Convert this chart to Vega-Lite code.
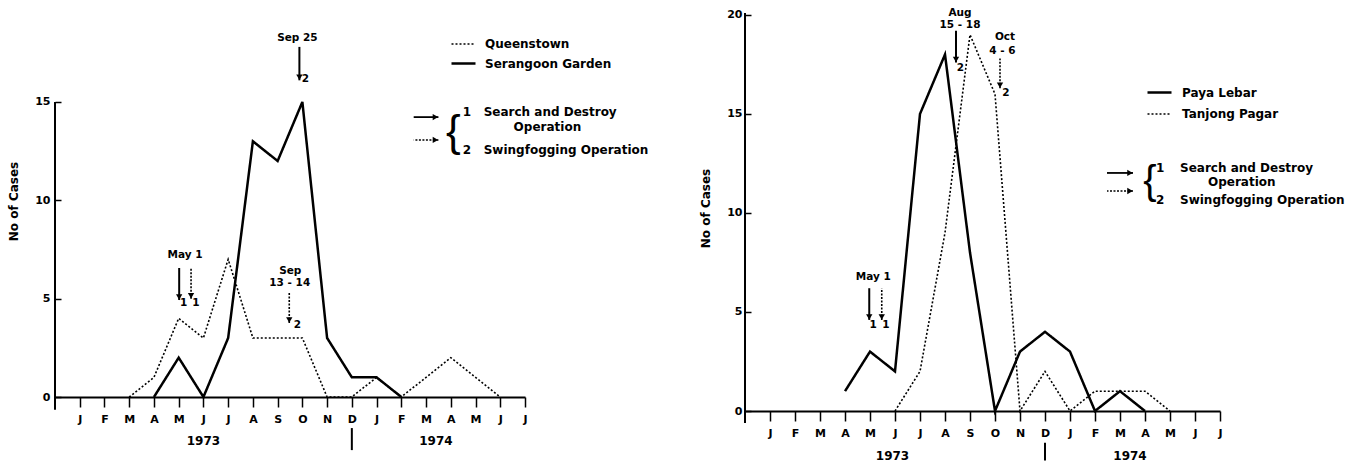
{
  "$schema": "https://vega.github.io/schema/vega-lite/v6.json",
  "padding": {"left": 7, "top": 5, "right": 5, "bottom": 0},
  "background": "white",
  "bounds": "flush",
  "spacing": 220,
  "config": {
    "font": "DejaVu Sans",
    "view": {"stroke": null},
    "axis": {"grid": false, "domainColor": "black", "tickColor": "black", "labelColor": "black", "titleColor": "black", "labelFont": "DejaVu Sans", "labelFontWeight": "bold", "labelFontSize": 11, "titleFont": "DejaVu Sans", "titleFontWeight": "bold", "titleFontSize": 12},
    "legend": {"labelFont": "DejaVu Sans", "labelFontWeight": "bold", "labelFontSize": 12, "labelColor": "black", "padding": 0}
  },
  "resolve": {"scale": {"strokeDash": "independent", "strokeWidth": "independent"}, "legend": {"strokeDash": "independent", "strokeWidth": "independent"}},
  "datasets": {
    "seriesLeft": [
      {"site": "Queenstown", "month": 3, "cases": 0},
      {"site": "Queenstown", "month": 4, "cases": 1},
      {"site": "Queenstown", "month": 5, "cases": 4},
      {"site": "Queenstown", "month": 6, "cases": 3},
      {"site": "Queenstown", "month": 7, "cases": 7},
      {"site": "Queenstown", "month": 8, "cases": 3},
      {"site": "Queenstown", "month": 9, "cases": 3},
      {"site": "Queenstown", "month": 10, "cases": 3},
      {"site": "Queenstown", "month": 11, "cases": 0},
      {"site": "Queenstown", "month": 12, "cases": 0},
      {"site": "Queenstown", "month": 13, "cases": 1},
      {"site": "Queenstown", "month": 14, "cases": 0},
      {"site": "Queenstown", "month": 15, "cases": 1},
      {"site": "Queenstown", "month": 16, "cases": 2},
      {"site": "Queenstown", "month": 17, "cases": 1},
      {"site": "Queenstown", "month": 18, "cases": 0},
      {"site": "Serangoon Garden", "month": 4, "cases": 0},
      {"site": "Serangoon Garden", "month": 5, "cases": 2},
      {"site": "Serangoon Garden", "month": 6, "cases": 0},
      {"site": "Serangoon Garden", "month": 7, "cases": 3},
      {"site": "Serangoon Garden", "month": 8, "cases": 13},
      {"site": "Serangoon Garden", "month": 9, "cases": 12},
      {"site": "Serangoon Garden", "month": 10, "cases": 15},
      {"site": "Serangoon Garden", "month": 11, "cases": 3},
      {"site": "Serangoon Garden", "month": 12, "cases": 1},
      {"site": "Serangoon Garden", "month": 13, "cases": 1},
      {"site": "Serangoon Garden", "month": 14, "cases": 0}
    ],
    "seriesRight": [
      {"site": "Paya Lebar", "month": 4, "cases": 1},
      {"site": "Paya Lebar", "month": 5, "cases": 3},
      {"site": "Paya Lebar", "month": 6, "cases": 2},
      {"site": "Paya Lebar", "month": 7, "cases": 15},
      {"site": "Paya Lebar", "month": 8, "cases": 18},
      {"site": "Paya Lebar", "month": 9, "cases": 8},
      {"site": "Paya Lebar", "month": 10, "cases": 0},
      {"site": "Paya Lebar", "month": 11, "cases": 3},
      {"site": "Paya Lebar", "month": 12, "cases": 4},
      {"site": "Paya Lebar", "month": 13, "cases": 3},
      {"site": "Paya Lebar", "month": 14, "cases": 0},
      {"site": "Paya Lebar", "month": 15, "cases": 1},
      {"site": "Paya Lebar", "month": 16, "cases": 0},
      {"site": "Tanjong Pagar", "month": 6, "cases": 0},
      {"site": "Tanjong Pagar", "month": 7, "cases": 2},
      {"site": "Tanjong Pagar", "month": 8, "cases": 9},
      {"site": "Tanjong Pagar", "month": 9, "cases": 19},
      {"site": "Tanjong Pagar", "month": 10, "cases": 16},
      {"site": "Tanjong Pagar", "month": 11, "cases": 0},
      {"site": "Tanjong Pagar", "month": 12, "cases": 2},
      {"site": "Tanjong Pagar", "month": 13, "cases": 0},
      {"site": "Tanjong Pagar", "month": 14, "cases": 1},
      {"site": "Tanjong Pagar", "month": 15, "cases": 1},
      {"site": "Tanjong Pagar", "month": 16, "cases": 1},
      {"site": "Tanjong Pagar", "month": 17, "cases": 0}
    ],
    "arrows": [
      {"panel": "left", "kind": "search", "month": 5.02, "cases": 4.93, "cases2": 6.56},
      {"panel": "left", "kind": "fog", "month": 5.5, "cases": 5.0, "cases2": 6.56},
      {"panel": "left", "kind": "fog", "month": 9.47, "cases": 3.76, "cases2": 5.34},
      {"panel": "left", "kind": "search", "month": 9.88, "cases": 16.1, "cases2": 17.8},
      {"panel": "right", "kind": "search", "month": 4.97, "cases": 4.6, "cases2": 6.2},
      {"panel": "right", "kind": "fog", "month": 5.47, "cases": 4.6, "cases2": 6.2},
      {"panel": "right", "kind": "search", "month": 8.44, "cases": 17.6, "cases2": 19.2},
      {"panel": "right", "kind": "fog", "month": 10.2, "cases": 16.3, "cases2": 17.8}
    ],
    "keyArrows": [
      {"panel": "left", "kind": "search", "month": 15.5, "month2": 14.5, "cases": 14.23},
      {"panel": "left", "kind": "fog", "month": 15.5, "month2": 14.5, "cases": 13.07},
      {"panel": "right", "kind": "search", "month": 15.52, "month2": 14.48, "cases": 12.02},
      {"panel": "right", "kind": "fog", "month": 15.52, "month2": 14.48, "cases": 11.11}
    ],
    "notes": [
      {"panel": "left", "month": 5.26, "cases": 7.22, "label": "May 1"},
      {"panel": "left", "month": 5.2, "cases": 4.8, "label": "1"},
      {"panel": "left", "month": 5.7, "cases": 4.8, "label": "1"},
      {"panel": "left", "month": 9.51, "cases": 6.42, "label": "Sep"},
      {"panel": "left", "month": 9.49, "cases": 5.8, "label": "13 - 14"},
      {"panel": "left", "month": 9.8, "cases": 3.66, "label": "2"},
      {"panel": "left", "month": 9.8, "cases": 18.25, "label": "Sep 25"},
      {"panel": "left", "month": 10.12, "cases": 16.15, "label": "2"},
      {"panel": "right", "month": 5.13, "cases": 6.77, "label": "May 1"},
      {"panel": "right", "month": 5.13, "cases": 4.34, "label": "1"},
      {"panel": "right", "month": 5.64, "cases": 4.34, "label": "1"},
      {"panel": "right", "month": 8.6, "cases": 20.1, "label": "Aug"},
      {"panel": "right", "month": 8.6, "cases": 19.5, "label": "15 - 18"},
      {"panel": "right", "month": 8.62, "cases": 17.3, "label": "2"},
      {"panel": "right", "month": 10.4, "cases": 18.9, "label": "Oct"},
      {"panel": "right", "month": 10.3, "cases": 18.2, "label": "4 - 6"},
      {"panel": "right", "month": 10.44, "cases": 16.06, "label": "2"}
    ],
    "keyText": [
      {"panel": "left", "month": 16.48, "cases": 14.49, "label": "1"},
      {"panel": "left", "month": 17.33, "cases": 14.49, "label": "Search and Destroy"},
      {"panel": "left", "month": 18.54, "cases": 13.73, "label": "Operation"},
      {"panel": "left", "month": 16.48, "cases": 12.56, "label": "2"},
      {"panel": "left", "month": 17.33, "cases": 12.56, "label": "Swingfogging Operation"},
      {"panel": "right", "month": 16.44, "cases": 12.27, "label": "1"},
      {"panel": "right", "month": 17.4, "cases": 12.27, "label": "Search and Destroy"},
      {"panel": "right", "month": 18.52, "cases": 11.57, "label": "Operation"},
      {"panel": "right", "month": 16.44, "cases": 10.66, "label": "2"},
      {"panel": "right", "month": 17.4, "cases": 10.66, "label": "Swingfogging Operation"}
    ],
    "braces": [
      {"panel": "left", "month": 16.1, "cases": 13.4, "label": "{"},
      {"panel": "right", "month": 16.2, "cases": 11.55, "label": "{"}
    ],
    "years": [
      {"panel": "left", "month": 6.0, "cases": -2.24, "label": "1973"},
      {"panel": "left", "month": 15.4, "cases": -2.24, "label": "1974"},
      {"panel": "right", "month": 5.9, "cases": -2.27, "label": "1973"},
      {"panel": "right", "month": 15.4, "cases": -2.27, "label": "1974"}
    ],
    "frame": [
      {"panel": "left", "month": 0, "cases": -0.65, "cases2": 15},
      {"panel": "left", "month": 12, "cases": -1.58, "cases2": -2.7},
      {"panel": "right", "month": 0, "cases": -0.6, "cases2": 20.1},
      {"panel": "right", "month": 12, "cases": -1.6, "cases2": -2.5}
    ]
  },
  "hconcat": [
    {
      "width": 470,
      "height": 392,
      "encoding": {
        "x": {"field": "month", "type": "quantitative", "scale": {"domain": [0, 19], "nice": false, "zero": false},
          "axis": {"values": [1,2,3,4,5,6,7,8,9,10,11,12,13,14,15,16,17,18,19], "labelExpr": "['','J','F','M','A','M','J','J','A','S','O','N','D','J','F','M','A','M','J','J'][datum.value]", "domainWidth": 2, "tickSize": 10, "tickWidth": 1.5, "labelPadding": 6, "labelOverlap": false, "labelFlush": false, "labelBound": false, "labelSeparation": 0, "title": null}},
        "y": {"field": "cases", "type": "quantitative", "scale": {"domain": [0, 19.93], "nice": false},
          "axis": {"values": [0, 5, 10, 15], "domain": false, "tickSize": -6, "tickWidth": 1.5, "labelPadding": 11, "labelOverlap": false, "title": "No of Cases", "titlePadding": 14}}
      },
      "layer": [
        {
          "data": {"name": "seriesLeft"},
          "mark": {"type": "line", "color": "black"},
          "encoding": {
            "strokeDash": {"field": "site", "type": "nominal", "scale": {"domain": ["Queenstown", "Serangoon Garden"], "range": [[2, 2], [1, 0]]},
              "legend": {"title": null, "orient": "none", "legendX": 395, "legendY": 26, "symbolType": "stroke", "symbolSize": 576, "symbolStrokeColor": "black", "labelOffset": 8, "rowPadding": 0}},
            "strokeWidth": {"field": "site", "type": "nominal", "scale": {"domain": ["Queenstown", "Serangoon Garden"], "range": [1.6, 2.5]},
              "legend": {"title": null, "orient": "none", "legendX": 395, "legendY": 26, "symbolType": "stroke", "symbolSize": 576, "symbolStrokeColor": "black", "labelOffset": 8, "rowPadding": 0}}
          }
        },
        {
          "data": {"name": "frame"},
          "transform": [{"filter": "datum.panel == 'left'"}],
          "mark": {"type": "rule", "color": "black", "strokeWidth": 2},
          "encoding": {"y2": {"field": "cases2"}}
        },
        {
          "data": {"name": "arrows"},
          "transform": [{"filter": "datum.panel == 'left' && datum.kind == 'search'"}],
          "mark": {"type": "rule", "color": "black", "strokeWidth": 2},
          "encoding": {"y2": {"field": "cases2"}}
        },
        {
          "data": {"name": "arrows"},
          "transform": [{"filter": "datum.panel == 'left' && datum.kind == 'fog'"}],
          "mark": {"type": "rule", "color": "black", "strokeWidth": 1.6, "strokeDash": [2, 1.5]},
          "encoding": {"y2": {"field": "cases2"}}
        },
        {
          "data": {"name": "arrows"},
          "transform": [{"filter": "datum.panel == 'left'"}],
          "mark": {"type": "point", "shape": "triangle-down", "filled": true, "color": "black", "opacity": 1, "size": 40, "yOffset": -3}
        },
        {
          "data": {"name": "keyArrows"},
          "transform": [{"filter": "datum.panel == 'left' && datum.kind == 'search'"}],
          "mark": {"type": "rule", "color": "black", "strokeWidth": 1.8},
          "encoding": {"x2": {"field": "month2"}}
        },
        {
          "data": {"name": "keyArrows"},
          "transform": [{"filter": "datum.panel == 'left' && datum.kind == 'fog'"}],
          "mark": {"type": "rule", "color": "black", "strokeWidth": 1.5, "strokeDash": [2, 1.5]},
          "encoding": {"x2": {"field": "month2"}}
        },
        {
          "data": {"name": "keyArrows"},
          "transform": [{"filter": "datum.panel == 'left'"}],
          "mark": {"type": "point", "shape": "triangle-right", "filled": true, "color": "black", "opacity": 1, "size": 40, "xOffset": -3}
        },
        {
          "data": {"name": "notes"},
          "transform": [{"filter": "datum.panel == 'left'"}],
          "mark": {"type": "text", "color": "black", "font": "DejaVu Sans", "fontWeight": "bold", "fontSize": 10.5, "align": "center", "baseline": "middle"},
          "encoding": {"text": {"field": "label"}}
        },
        {
          "data": {"name": "keyText"},
          "transform": [{"filter": "datum.panel == 'left'"}],
          "mark": {"type": "text", "color": "black", "font": "DejaVu Sans", "fontWeight": "bold", "fontSize": 12, "align": "left", "baseline": "middle"},
          "encoding": {"text": {"field": "label"}}
        },
        {
          "data": {"name": "braces"},
          "transform": [{"filter": "datum.panel == 'left'"}],
          "mark": {"type": "text", "color": "black", "font": "Liberation Sans", "fontWeight": "normal", "fontSize": 44, "align": "center", "baseline": "middle"},
          "encoding": {"text": {"field": "label"}}
        },
        {
          "data": {"name": "years"},
          "transform": [{"filter": "datum.panel == 'left'"}],
          "mark": {"type": "text", "color": "black", "font": "DejaVu Sans", "fontWeight": "bold", "fontSize": 12, "align": "center", "baseline": "middle"},
          "encoding": {"text": {"field": "label"}}
        }
      ]
    },
    {
      "width": 475,
      "height": 406,
      "encoding": {
        "x": {"field": "month", "type": "quantitative", "scale": {"domain": [0, 19], "nice": false, "zero": false},
          "axis": {"values": [1,2,3,4,5,6,7,8,9,10,11,12,13,14,15,16,17,18,19], "labelExpr": "['','J','F','M','A','M','J','J','A','S','O','N','D','J','F','M','A','M','J','J'][datum.value]", "domainWidth": 2, "tickSize": 10, "tickWidth": 1.5, "labelPadding": 6, "labelOverlap": false, "labelFlush": false, "labelBound": false, "labelSeparation": 0, "title": null}},
        "y": {"field": "cases", "type": "quantitative", "scale": {"domain": [0, 20.5], "nice": false},
          "axis": {"values": [0, 5, 10, 15, 20], "domain": false, "tickSize": -6, "tickWidth": 1.5, "labelPadding": 9, "labelOverlap": false, "title": "No of Cases", "titlePadding": 14}}
      },
      "layer": [
        {
          "data": {"name": "seriesRight"},
          "mark": {"type": "line", "color": "black"},
          "encoding": {
            "strokeDash": {"field": "site", "type": "nominal", "scale": {"domain": ["Paya Lebar", "Tanjong Pagar"], "range": [[1, 0], [2, 2]]},
              "legend": {"title": null, "orient": "none", "legendX": 401, "legendY": 74, "symbolType": "stroke", "symbolSize": 576, "symbolStrokeColor": "black", "labelOffset": 9, "rowPadding": 2}},
            "strokeWidth": {"field": "site", "type": "nominal", "scale": {"domain": ["Paya Lebar", "Tanjong Pagar"], "range": [2.5, 1.6]},
              "legend": {"title": null, "orient": "none", "legendX": 401, "legendY": 74, "symbolType": "stroke", "symbolSize": 576, "symbolStrokeColor": "black", "labelOffset": 9, "rowPadding": 2}}
          }
        },
        {
          "data": {"name": "frame"},
          "transform": [{"filter": "datum.panel == 'right'"}],
          "mark": {"type": "rule", "color": "black", "strokeWidth": 2},
          "encoding": {"y2": {"field": "cases2"}}
        },
        {
          "data": {"name": "arrows"},
          "transform": [{"filter": "datum.panel == 'right' && datum.kind == 'search'"}],
          "mark": {"type": "rule", "color": "black", "strokeWidth": 2},
          "encoding": {"y2": {"field": "cases2"}}
        },
        {
          "data": {"name": "arrows"},
          "transform": [{"filter": "datum.panel == 'right' && datum.kind == 'fog'"}],
          "mark": {"type": "rule", "color": "black", "strokeWidth": 1.6, "strokeDash": [2, 1.5]},
          "encoding": {"y2": {"field": "cases2"}}
        },
        {
          "data": {"name": "arrows"},
          "transform": [{"filter": "datum.panel == 'right'"}],
          "mark": {"type": "point", "shape": "triangle-down", "filled": true, "color": "black", "opacity": 1, "size": 40, "yOffset": -3}
        },
        {
          "data": {"name": "keyArrows"},
          "transform": [{"filter": "datum.panel == 'right' && datum.kind == 'search'"}],
          "mark": {"type": "rule", "color": "black", "strokeWidth": 1.8},
          "encoding": {"x2": {"field": "month2"}}
        },
        {
          "data": {"name": "keyArrows"},
          "transform": [{"filter": "datum.panel == 'right' && datum.kind == 'fog'"}],
          "mark": {"type": "rule", "color": "black", "strokeWidth": 1.5, "strokeDash": [2, 1.5]},
          "encoding": {"x2": {"field": "month2"}}
        },
        {
          "data": {"name": "keyArrows"},
          "transform": [{"filter": "datum.panel == 'right'"}],
          "mark": {"type": "point", "shape": "triangle-right", "filled": true, "color": "black", "opacity": 1, "size": 40, "xOffset": -3}
        },
        {
          "data": {"name": "notes"},
          "transform": [{"filter": "datum.panel == 'right'"}],
          "mark": {"type": "text", "color": "black", "font": "DejaVu Sans", "fontWeight": "bold", "fontSize": 10.5, "align": "center", "baseline": "middle"},
          "encoding": {"text": {"field": "label"}}
        },
        {
          "data": {"name": "keyText"},
          "transform": [{"filter": "datum.panel == 'right'"}],
          "mark": {"type": "text", "color": "black", "font": "DejaVu Sans", "fontWeight": "bold", "fontSize": 12, "align": "left", "baseline": "middle"},
          "encoding": {"text": {"field": "label"}}
        },
        {
          "data": {"name": "braces"},
          "transform": [{"filter": "datum.panel == 'right'"}],
          "mark": {"type": "text", "color": "black", "font": "Liberation Sans", "fontWeight": "normal", "fontSize": 40, "align": "center", "baseline": "middle"},
          "encoding": {"text": {"field": "label"}}
        },
        {
          "data": {"name": "years"},
          "transform": [{"filter": "datum.panel == 'right'"}],
          "mark": {"type": "text", "color": "black", "font": "DejaVu Sans", "fontWeight": "bold", "fontSize": 12, "align": "center", "baseline": "middle"},
          "encoding": {"text": {"field": "label"}}
        }
      ]
    }
  ]
}
